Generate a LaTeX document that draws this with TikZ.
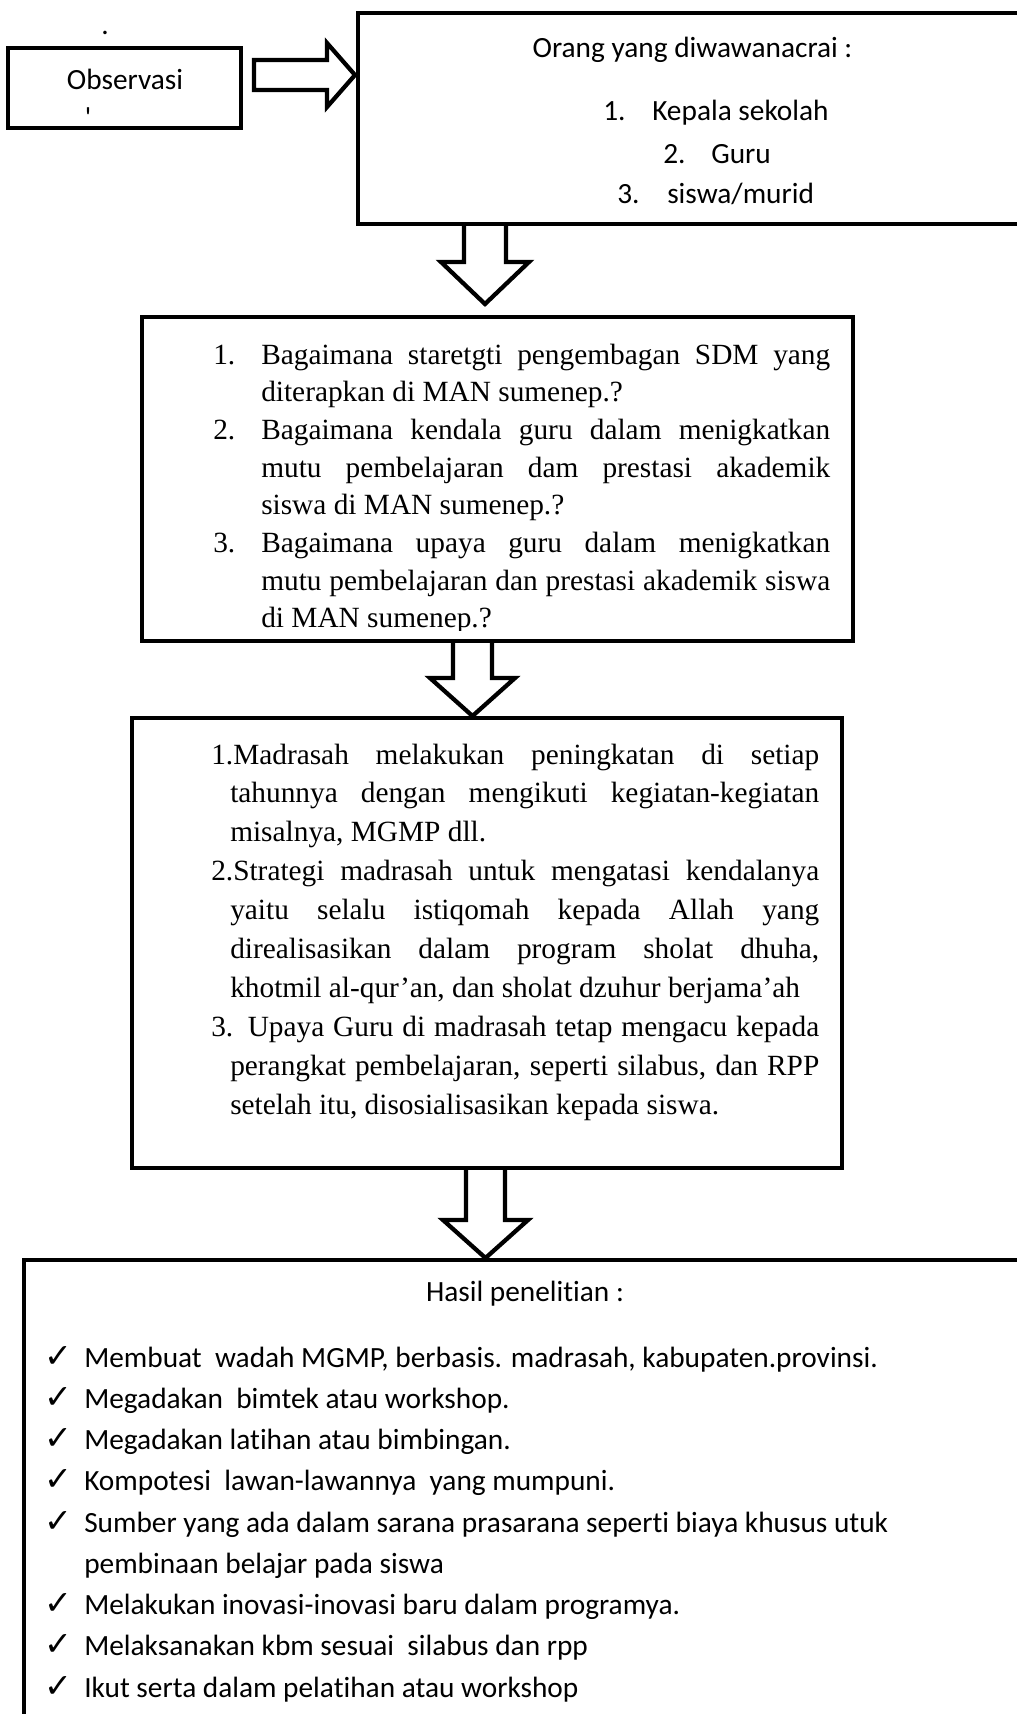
\documentclass[tikz,border=0pt]{standalone}
\usepackage{fontspec}
\setmainfont{Liberation Serif}[Ligatures={NoCommon}]
\newfontfamily\calfont{Carlito}[Ligatures={NoCommon}]
\newfontfamily\dvfont{DejaVu Sans}
\usetikzlibrary{calc,fit}
\begin{document}
\begin{tikzpicture}[x=0.75pt,y=-0.75pt,
  boxshape/.style={draw, line width=3.4pt, inner sep=0pt, line join=miter},
  blockarr/.style={draw, line width=3.2pt, line join=miter},
  ctxt/.style={font=\calfont\fontsize{22}{26}\selectfont, inner sep=0pt},
  ttxt/.style={font=\fontsize{22}{26}\selectfont, inner sep=0pt, anchor=base west},
  chk/.style={font=\dvfont\fontsize{25}{28}\selectfont, inner sep=0pt, anchor=base},
]
\useasboundingbox (0,0) rectangle (1017,1714);
\fill[white] (0,0) rectangle (1017,1714);
\clip (0,0) rectangle (1017,1714);

% ---------- boxes ----------
\node[boxshape, fit={(8,48) (241,128)}] (obs) {};
\node[boxshape, fit={(358,13) (1045,224)}] (b1) {};
\node[boxshape, fit={(142,317) (853,641)}] (b2) {};
\node[boxshape, fit={(132,718) (842,1168)}] (b3) {};
\node[boxshape, fit={(24,1260) (1045,1745)}] (b4) {};

% ---------- observasi ----------
\node[ctxt, anchor=base] (tobs) at (125,89) {Observasi};
\node[ctxt, anchor=base] (dot1) at (105,34) {.};
\node[ctxt, anchor=base] (tick1) at (88,127) {\char"27};

% ---------- right block arrow ----------
\coordinate (ratail) at (254,75);
\coordinate (ratip) at (355,75);
\draw[blockarr] ($(ratail)+(0,-15)$) -- ($(ratip)+(-28,-15)$) -- ($(ratip)+(-28,-32)$)
  -- (ratip) -- ($(ratip)+(-28,32)$) -- ($(ratip)+(-28,15)$) -- ($(ratail)+(0,15)$) -- cycle;

% ---------- box 1 text ----------
\node[ctxt, anchor=base] (t1a) at (692.5,57) {Orang yang diwawanacrai :};
\node[ctxt, anchor=base west] (n1) at (603,120) {1.};
\node[ctxt, anchor=base west] (t1b) at (652,120) {Kepala sekolah};
\node[ctxt, anchor=base west] (n2) at (663,163) {2.};
\node[ctxt, anchor=base west] (t1c) at (711,163) {Guru};
\node[ctxt, anchor=base west] (n3) at (617,203) {3.};
\node[ctxt, anchor=base west] (t1d) at (667,203) {siswa/murid};

% ---------- down arrow 1 ----------
\coordinate (a1s) at (485,224);
\coordinate (a1e) at (485,304);
\draw[blockarr] ($(a1s)+(-21,0)$) -- ($(a1e)+(-21,-42)$) -- ($(a1e)+(-44,-42)$) -- (a1e)
  -- ($(a1e)+(44,-42)$) -- ($(a1e)+(21,-42)$) -- ($(a1s)+(21,0)$);

% ---------- box 2 text ----------
\begin{scope}
\clip (142,317) rectangle (853,630);
\node[ttxt] (q1n) at (213,364) {1.};
\node[ttxt] (q1a) at (261,364) {\makebox[426.75pt][s]{Bagaimana staretgti pengembagan SDM yang}};
\node[ttxt] (q1b) at (261,401.7) {diterapkan di MAN sumenep.?};
\node[ttxt] (q2n) at (213,439.4) {2.};
\node[ttxt] (q2a) at (261,439.4) {\makebox[426.75pt][s]{Bagaimana kendala guru dalam menigkatkan}};
\node[ttxt] (q2b) at (261,477.1) {\makebox[426.75pt][s]{mutu pembelajaran dam prestasi akademik}};
\node[ttxt] (q2c) at (261,514.8) {siswa di MAN sumenep.?};
\node[ttxt] (q3n) at (213,552.5) {3.};
\node[ttxt] (q3a) at (261,552.5) {\makebox[426.75pt][s]{Bagaimana upaya guru dalam menigkatkan}};
\node[ttxt] (q3b) at (261,590.2) {\makebox[426.75pt][s]{mutu pembelajaran dan prestasi akademik siswa}};
\node[ttxt] (q3c) at (261,627.9) {di MAN sumenep.?};
\end{scope}

% ---------- down arrow 2 ----------
\coordinate (a2s) at (472.5,641);
\coordinate (a2e) at (472.5,716);
\draw[blockarr] ($(a2s)+(-19.5,0)$) -- ($(a2e)+(-19.5,-38)$) -- ($(a2e)+(-42.5,-38)$) -- (a2e)
  -- ($(a2e)+(42.5,-38)$) -- ($(a2e)+(19.5,-38)$) -- ($(a2s)+(19.5,0)$);

% ---------- box 3 text ----------
\node[ttxt] (r1a) at (211,764) {\makebox[456pt][s]{1.Madrasah melakukan peningkatan di setiap}};
\node[ttxt] (r1b) at (230,802.9) {\makebox[441.75pt][s]{tahunnya dengan mengikuti kegiatan-kegiatan}};
\node[ttxt] (r1c) at (230,841.8) {misalnya, MGMP dll.};
\node[ttxt] (r2a) at (211,880.7) {\makebox[456pt][s]{2.Strategi madrasah untuk mengatasi kendalanya}};
\node[ttxt] (r2b) at (230,919.6) {\makebox[441.75pt][s]{yaitu selalu istiqomah kepada Allah yang}};
\node[ttxt] (r2c) at (230,958.5) {\makebox[441.75pt][s]{direalisasikan dalam program sholat dhuha,}};
\node[ttxt] (r2d) at (230,997.4) {khotmil al-qur’an, dan sholat dzuhur berjama’ah};
\node[ttxt] (r3a) at (211,1036.3) {\makebox[456pt][s]{3. Upaya Guru di madrasah tetap mengacu kepada}};
\node[ttxt] (r3b) at (230,1075.2) {\makebox[441.75pt][s]{perangkat pembelajaran, seperti silabus, dan RPP}};
\node[ttxt] (r3c) at (230,1114.1) {setelah itu, disosialisasikan kepada siswa.};

% ---------- down arrow 3 ----------
\coordinate (a3s) at (485.5,1168);
\coordinate (a3e) at (485.5,1258);
\draw[blockarr] ($(a3s)+(-19.5,0)$) -- ($(a3e)+(-19.5,-38)$) -- ($(a3e)+(-42.5,-38)$) -- (a3e)
  -- ($(a3e)+(42.5,-38)$) -- ($(a3e)+(19.5,-38)$) -- ($(a3s)+(19.5,0)$);

% ---------- box 4 text ----------
\node[ctxt, anchor=base] (h4) at (525,1301) {Hasil penelitian :};
\node[chk] (c1) at (58,1367) {✓};
\node[ctxt, anchor=base west] (s1) at (84,1367) {Membuat~ wadah MGMP, berbasis. madrasah, kabupaten.provinsi.};
\node[chk] (c2) at (58,1408.25) {✓};
\node[ctxt, anchor=base west] (s2) at (84,1408.25) {Megadakan~ bimtek atau workshop.};
\node[chk] (c3) at (58,1449.5) {✓};
\node[ctxt, anchor=base west] (s3) at (84,1449.5) {Megadakan latihan atau bimbingan.};
\node[chk] (c4) at (58,1490.75) {✓};
\node[ctxt, anchor=base west] (s4) at (84,1490.75) {Kompotesi~ lawan-lawannya~ yang mumpuni.};
\node[chk] (c5) at (58,1532) {✓};
\node[ctxt, anchor=base west] (s5) at (84,1532) {Sumber yang ada dalam sarana prasarana seperti biaya khusus utuk};
\node[ctxt, anchor=base west] (s5b) at (84,1573.25) {pembinaan belajar pada siswa};
\node[chk] (c6) at (58,1614.5) {✓};
\node[ctxt, anchor=base west] (s6) at (84,1614.5) {Melakukan inovasi-inovasi baru dalam programya.};
\node[chk] (c7) at (58,1655.75) {✓};
\node[ctxt, anchor=base west] (s7) at (84,1655.75) {Melaksanakan kbm sesuai~ silabus dan rpp};
\node[chk] (c8) at (58,1697) {✓};
\node[ctxt, anchor=base west] (s8) at (84,1697) {Ikut serta dalam pelatihan atau workshop};
\end{tikzpicture}
\end{document}
